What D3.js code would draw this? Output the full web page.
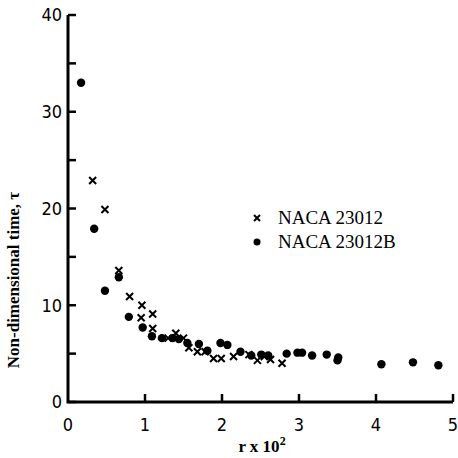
<!DOCTYPE html>
<html><head><meta charset="utf-8">
<script src="https://cdn.jsdelivr.net/npm/d3@7"></script>
<style>body{margin:0;background:#fff}svg{display:block}</style>
</head><body>
<script>
const xTicks = [0, 1, 2, 3, 4, 5];
const yTicks = [0, 10, 20, 30, 40];
const yMinorTicks = [5, 15, 25, 35];
const seriesNames = ["NACA 23012", "NACA 23012B"];
const crossX = [0.32, 0.48, 0.66, 0.80, 0.96, 0.95, 1.10, 1.10, 1.30, 1.40, 1.50, 1.57, 1.68, 1.78, 1.89, 1.99, 2.15, 2.35, 2.46, 2.55, 2.63, 2.78];
const crossY = [22.9, 19.9, 13.6, 10.9, 10.0, 8.7, 9.1, 7.6, 6.6, 7.1, 6.6, 5.6, 5.2, 5.2, 4.5, 4.5, 4.7, 4.9, 4.3, 4.7, 4.4, 4.0];
const dotX = [0.17, 0.34, 0.48, 0.66, 0.79, 0.97, 1.09, 1.22, 1.36, 1.44, 1.55, 1.70, 1.81, 1.98, 2.07, 2.24, 2.38, 2.51, 2.60, 2.84, 2.98, 3.04, 3.17, 3.36, 3.51, 3.50, 4.07, 4.48, 4.81];
const dotY = [33.0, 17.9, 11.5, 12.9, 8.8, 7.7, 6.8, 6.6, 6.6, 6.5, 6.1, 6.0, 5.3, 6.1, 5.9, 5.2, 4.8, 4.9, 4.8, 5.0, 5.1, 5.1, 4.8, 4.9, 4.6, 4.3, 3.9, 4.1, 3.8];

const W = 458, H = 458;
const svg = d3.select("body").append("svg").attr("width", W).attr("height", H);
const x = d3.scaleLinear().domain([0, 5]).range([68, 453]);
const y = d3.scaleLinear().domain([0, 40]).range([402, 15]);
const tickFont = "'Liberation Sans Narrow','DejaVu Sans Condensed',sans-serif";
const serif = "'Liberation Serif','DejaVu Serif',serif";

// axes lines
svg.append("path")
  .attr("d", `M${x(0)},${y(40)} L${x(0)},${y(0)} L${x(5)},${y(0)}`)
  .attr("fill", "none").attr("stroke", "#000").attr("stroke-width", 3);

// y ticks (inward)
const yt = svg.append("g");
yTicks.concat(yMinorTicks).forEach(v => {
  yt.append("line").attr("x1", x(0)).attr("x2", x(0) + 8)
    .attr("y1", y(v)).attr("y2", y(v)).attr("stroke", "#000").attr("stroke-width", 2.5);
});
yTicks.forEach(v => {
  yt.append("text").attr("x", x(0) - 6).attr("y", y(v)).attr("dy", "0.36em")
    .attr("text-anchor", "end").attr("font-family", tickFont).attr("font-size", 18)
    .text(v);
});
// x ticks (inward)
const xt = svg.append("g");
xTicks.slice(1).forEach(v => {
  xt.append("line").attr("x1", x(v)).attr("x2", x(v))
    .attr("y1", y(0)).attr("y2", y(0) - 8).attr("stroke", "#000").attr("stroke-width", 2.5);
});
xTicks.forEach(v => {
  xt.append("text").attr("x", x(v)).attr("y", 431)
    .attr("text-anchor", "middle").attr("font-family", tickFont).attr("font-size", 18)
    .text(v);
});

// axis titles
const xl = svg.append("text").attr("x", 262).attr("y", 452).attr("text-anchor", "middle")
  .attr("font-family", serif).attr("font-weight", "bold").attr("font-size", 17);
xl.append("tspan").text("r x 10");
xl.append("tspan").attr("dy", -7).attr("font-size", 12).text("2");

svg.append("text").attr("transform", "translate(19,280) rotate(-90)")
  .attr("text-anchor", "middle").attr("font-family", serif).attr("font-weight", "bold")
  .attr("font-size", 17).text("Non-dimensional time, \u03c4");

// markers
const crossPath = (cx, cy, s) => `M${cx - s},${cy - s}L${cx + s},${cy + s}M${cx - s},${cy + s}L${cx + s},${cy - s}`;
const crosses = crossX.map((v, i) => [v, crossY[i]]);
const dots = dotX.map((v, i) => [v, dotY[i]]);
svg.append("g").selectAll("path").data(crosses).join("path")
  .attr("d", d => crossPath(x(d[0]), y(d[1]), 3.5))
  .attr("stroke", "#000").attr("stroke-width", 2).attr("fill", "none");
svg.append("g").selectAll("circle").data(dots).join("circle")
  .attr("cx", d => x(d[0])).attr("cy", d => y(d[1])).attr("r", 4.2).attr("fill", "#000");

// legend
const lg = svg.append("g");
lg.append("path").attr("d", crossPath(257, 218, 3)).attr("stroke", "#000").attr("stroke-width", 2);
lg.append("circle").attr("cx", 257).attr("cy", 242).attr("r", 3.5).attr("fill", "#000");
lg.append("text").attr("x", 278).attr("y", 224).attr("font-family", serif).attr("font-size", 19).text(seriesNames[0]);
lg.append("text").attr("x", 278).attr("y", 248).attr("font-family", serif).attr("font-size", 19).text(seriesNames[1]);
</script>
</body></html>
